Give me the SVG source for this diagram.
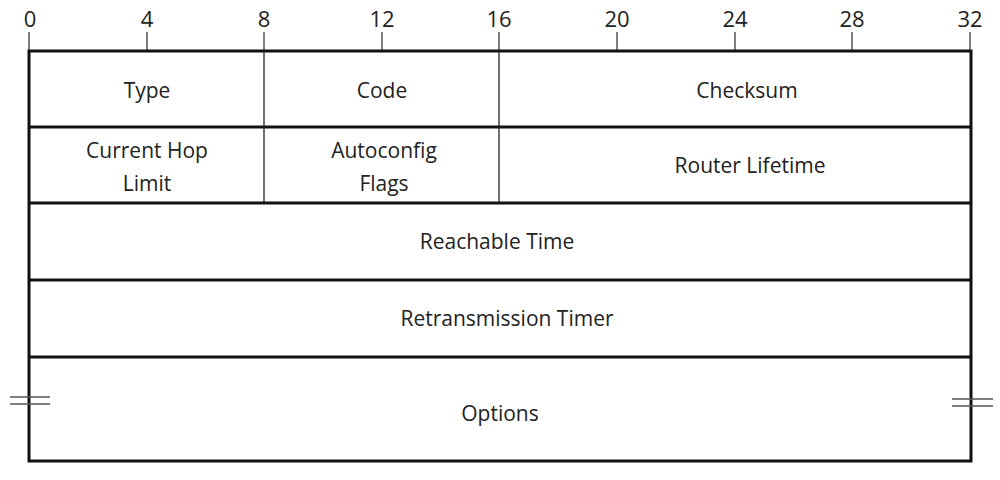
<svg xmlns="http://www.w3.org/2000/svg" width="1000" height="480" viewBox="0 0 1000 480">
<style>
.t{font-family:"Open Sans","Liberation Sans",sans-serif;font-size:21px;fill:#222;text-anchor:middle}
.n{font-family:"Open Sans","Liberation Sans",sans-serif;font-size:22px;fill:#222;text-anchor:middle}
.b{stroke:#111;stroke-width:3;fill:none}
.d{stroke:#222;stroke-width:1.3;fill:none}
.k{stroke:#555;stroke-width:1.5}
</style>
<rect width="1000" height="480" fill="#fff"/>
<g id="scale">
<text class="n" x="30" y="27">0</text><text class="n" x="147" y="27">4</text><text class="n" x="264" y="27">8</text><text class="n" x="382" y="27">12</text><text class="n" x="499" y="27">16</text><text class="n" x="617" y="27">20</text><text class="n" x="735" y="27">24</text><text class="n" x="852" y="27">28</text><text class="n" x="970" y="27">32</text>
<g class="k"><line x1="29" y1="32" x2="29" y2="51"/><line x1="147" y1="32" x2="147" y2="51"/><line x1="264" y1="32" x2="264" y2="51"/><line x1="382" y1="32" x2="382" y2="51"/><line x1="499" y1="32" x2="499" y2="51"/><line x1="617" y1="32" x2="617" y2="51"/><line x1="735" y1="32" x2="735" y2="51"/><line x1="852" y1="32" x2="852" y2="51"/><line x1="970" y1="32" x2="970" y2="51"/></g>
</g>
<g id="frame">
<rect class="b" x="29" y="51" width="942" height="410"/>
<line class="b" x1="29" y1="127" x2="971" y2="127"/>
<line class="b" x1="29" y1="203" x2="971" y2="203"/>
<line class="b" x1="29" y1="280" x2="971" y2="280"/>
<line class="b" x1="29" y1="357" x2="971" y2="357"/>
<line class="d" x1="264" y1="51" x2="264" y2="203"/>
<line class="d" x1="499" y1="51" x2="499" y2="203"/>
</g>
<g id="breaks" stroke="#555" stroke-width="1.5">
<line x1="10" y1="397" x2="50" y2="397"/><line x1="10" y1="404" x2="50" y2="404"/>
<line x1="952" y1="399" x2="993" y2="399"/><line x1="952" y1="406" x2="993" y2="406"/>
</g>
<g id="type"><text class="t" x="147" y="98">Type</text></g>
<g id="code"><text class="t" x="382" y="98">Code</text></g>
<g id="checksum"><text class="t" x="747" y="98">Checksum</text></g>
<g id="hop"><text class="t" x="147" y="158">Current Hop</text><text class="t" x="147" y="191">Limit</text></g>
<g id="flags"><text class="t" x="384" y="158">Autoconfig</text><text class="t" x="384" y="191">Flags</text></g>
<g id="lifetime"><text class="t" x="750" y="173">Router Lifetime</text></g>
<g id="reach"><text class="t" x="497" y="249">Reachable Time</text></g>
<g id="retrans"><text class="t" x="507" y="326">Retransmission Timer</text></g>
<g id="options"><text class="t" x="500" y="421">Options</text></g>
</svg>
